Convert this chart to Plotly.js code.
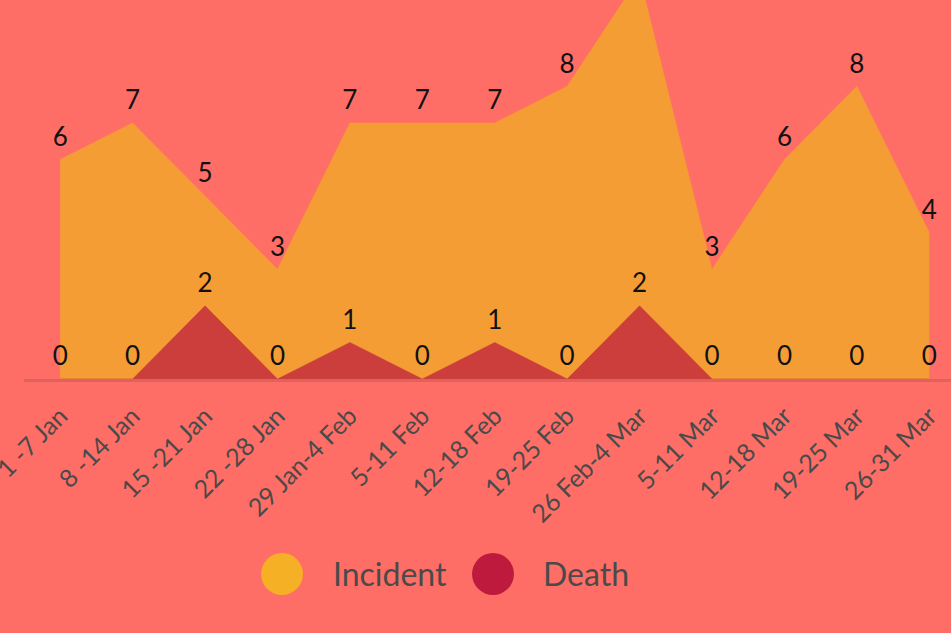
<!DOCTYPE html>
<html>
<head>
<meta charset="utf-8">
<script src="https://cdn.plot.ly/plotly-3.0.1.min.js"></script>
<style>html,body{margin:0;padding:0;background:#FF6E66;}#chart{width:951px;height:633px;}</style>
</head>
<body>
<div id="chart"></div>
<script>
const weeks = ["1 -7 Jan","8 -14 Jan","15 -21 Jan","22 -28 Jan","29 Jan-4 Feb","5-11 Feb","12-18 Feb","19-25 Feb","26 Feb-4 Mar","5-11 Mar","12-18 Mar","19-25 Mar","26-31 Mar"];
const incidents = [6,7,5,3,7,7,7,8,11,3,6,8,4];
const deaths = [0,0,2,0,1,0,1,0,2,0,0,0,0];
const seriesNames = ["Incident","Death"];

const idx = weeks.map((_, i) => i);
const labelFont = {family: "Lato, 'Noto Sans', sans-serif", size: 26, color: "#111111"};

const traces = [
  {
    x: idx, y: incidents, name: seriesNames[0], type: "scatter", mode: "lines+markers+text",
    fill: "tozeroy", fillcolor: "#F59D35", line: {color: "#F59D35", width: 0.5},
    marker: {size: 10, opacity: 0},
    text: incidents.map(String), textposition: "top center", textfont: labelFont,
    hoverinfo: "skip", showlegend: false
  },
  {
    x: idx, y: deaths, name: seriesNames[1], type: "scatter", mode: "lines+markers+text",
    fill: "tozeroy", fillcolor: "#CB3E3C", line: {color: "#CB3E3C", width: 0.5},
    marker: {size: 10, opacity: 0},
    text: deaths.map(String), textposition: "top center", textfont: labelFont,
    hoverinfo: "skip", showlegend: false
  }
];

const plotTop = 0, plotBottom = 379, plotLeft = 24, plotW = 927;
function px2paperX(px){ return (px - plotLeft) / plotW; }
function px2paperY(py){ return (plotBottom - py) / (plotBottom - plotTop); }

const legendItems = [
  {name: seriesNames[0], color: "#F5B025", cx: 282, tx: 331},
  {name: seriesNames[1], color: "#BE1A3E", cx: 493, tx: 541}
];

const shapes = legendItems.map(it => ({
  type: "circle", xref: "paper", yref: "paper",
  xsizemode: "pixel", ysizemode: "pixel",
  xanchor: px2paperX(it.cx), yanchor: px2paperY(574),
  x0: -21, x1: 21, y0: -21, y1: 21,
  fillcolor: it.color, line: {width: 0}
}));

const annotations = legendItems.map(it => ({
  xref: "paper", yref: "paper", x: px2paperX(it.tx), y: px2paperY(573),
  xanchor: "left", yanchor: "middle", showarrow: false,
  text: it.name, font: {family: "Lato, 'Noto Sans', sans-serif", size: 32, color: "#4a4a4a"}
}));

const layout = {
  width: 951, height: 633,
  paper_bgcolor: "#FF6E66", plot_bgcolor: "#FF6E66",
  margin: {l: plotLeft, r: 0, t: plotTop, b: 633 - plotBottom, pad: 0},
  showlegend: false,
  xaxis: {
    range: [-0.5, 12.3], tickmode: "array", tickvals: idx, ticktext: weeks,
    tickangle: -45, ticks: "", showgrid: false, zeroline: false,
    showline: true, linecolor: "#DE635C", linewidth: 2.5,
    ticklabelstandoff: 10, ticklabeloverflow: "allow",
    tickfont: {family: "Lato, 'Noto Sans', sans-serif", size: 25, color: "#4a4a4a"}
  },
  yaxis: {
    range: [0, 10.36], showgrid: false, zeroline: false, showticklabels: false,
    ticks: "", showline: false
  },
  shapes: shapes,
  annotations: annotations
};

Plotly.newPlot("chart", traces, layout, {displayModeBar: false, staticPlot: true});
</script>
</body>
</html>
